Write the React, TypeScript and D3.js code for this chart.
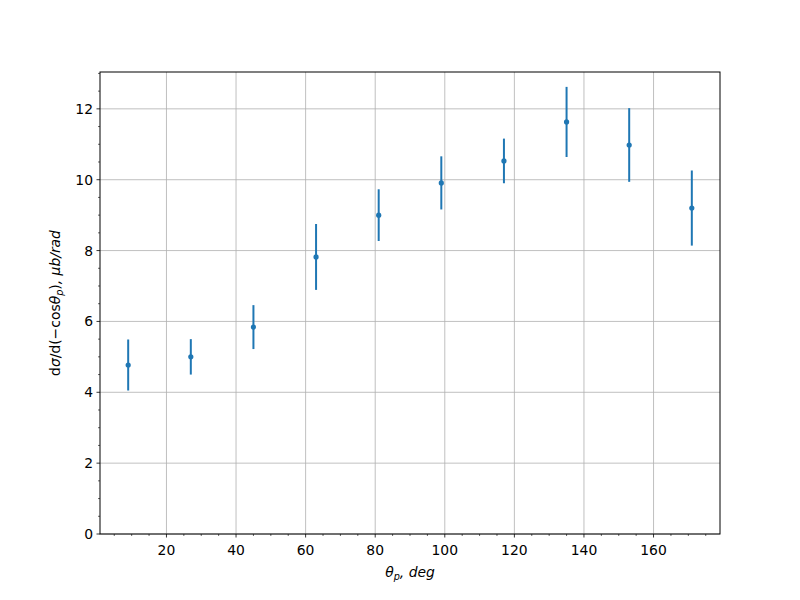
import React from "react";
import * as d3 from "d3";

const thetaDeg = [9, 27, 45, 63, 81, 99, 117, 135, 153, 171];
const crossSection = [4.77, 5.0, 5.84, 7.82, 9.0, 9.91, 10.53, 11.63, 10.98, 9.2];
const crossSectionErr = [0.72, 0.5, 0.62, 0.93, 0.73, 0.75, 0.63, 0.99, 1.04, 1.06];
const xTicks = [20, 40, 60, 80, 100, 120, 140, 160];
const yTicks = [0, 2, 4, 6, 8, 10, 12];

const W = 800, H = 600;
const L = 100, R = 720, T = 72, B = 534;
const COLOR = "#1f77b4";
const FONT = "'DejaVu Sans', sans-serif";

export default function App() {
  const x = d3.scaleLinear().domain([0.9, 179.1]).range([L, R]);
  const y = d3.scaleLinear().domain([0, 13.04]).range([B, T]);
  const xMinor = d3.range(5, 180, 5).filter((v) => v % 20 !== 0 && x(v) >= L && x(v) <= R);
  const yMinor = d3.range(0.5, 13.04, 0.5).filter((v) => Math.abs(v % 2) > 1e-9);

  return (
    <svg width={W} height={H} style={{ display: "block", margin: "-8px" }} fontFamily={FONT}>
      <rect width={W} height={H} fill="white" />
      {/* grid */}
      {xTicks.map((v) => (
        <line key={"gx" + v} x1={x(v)} x2={x(v)} y1={T} y2={B} stroke="#b0b0b0" strokeWidth={0.8} />
      ))}
      {yTicks.map((v) => (
        <line key={"gy" + v} x1={L} x2={R} y1={y(v)} y2={y(v)} stroke="#b0b0b0" strokeWidth={0.8} />
      ))}
      {/* error bars */}
      {thetaDeg.map((t, i) => (
        <line
          key={"e" + i}
          x1={x(t)}
          x2={x(t)}
          y1={y(crossSection[i] - crossSectionErr[i])}
          y2={y(crossSection[i] + crossSectionErr[i])}
          stroke={COLOR}
          strokeWidth={2}
        />
      ))}
      {thetaDeg.map((t, i) => (
        <circle key={"p" + i} cx={x(t)} cy={y(crossSection[i])} r={2.6} fill={COLOR} />
      ))}
      {/* spines */}
      <rect x={L} y={T} width={R - L} height={B - T} fill="none" stroke="black" strokeWidth={1} />
      {/* x ticks */}
      {xTicks.map((v) => (
        <g key={"xt" + v}>
          <line x1={x(v)} x2={x(v)} y1={B} y2={B + 3.5} stroke="black" strokeWidth={0.8} />
          <text x={x(v)} y={B + 17} textAnchor="middle" fontSize={13.9} dominantBaseline="middle">
            {v}
          </text>
        </g>
      ))}
      {xMinor.map((v) => (
        <line key={"xm" + v} x1={x(v)} x2={x(v)} y1={B} y2={B + 2} stroke="black" strokeWidth={0.6} />
      ))}
      {/* y ticks */}
      {yTicks.map((v) => (
        <g key={"yt" + v}>
          <line x1={L - 3.5} x2={L} y1={y(v)} y2={y(v)} stroke="black" strokeWidth={0.8} />
          <text x={L - 7} y={y(v)} textAnchor="end" fontSize={13.9} dominantBaseline="central">
            {v}
          </text>
        </g>
      ))}
      {yMinor.map((v) => (
        <line key={"ym" + v} x1={L - 2} x2={L} y1={y(v)} y2={y(v)} stroke="black" strokeWidth={0.6} />
      ))}
      {/* x label */}
      <text x={(L + R) / 2} y={577} textAnchor="middle" fontSize={13.9} fontStyle="italic">
        <tspan>θ</tspan>
        <tspan fontSize={9.7} dy={3}>p</tspan>
        <tspan dy={-3}>, deg</tspan>
      </text>
      {/* y label */}
      <text
        transform={`translate(60, ${(T + B) / 2}) rotate(-90)`}
        textAnchor="middle"
        fontSize={13.9}
      >
        <tspan>d</tspan>
        <tspan fontStyle="italic">σ</tspan>
        <tspan>/d(−cos</tspan>
        <tspan fontStyle="italic">θ</tspan>
        <tspan fontStyle="italic" fontSize={9.7} dy={3}>p</tspan>
        <tspan dy={-3}>)</tspan>
        <tspan fontStyle="italic">, μb/rad</tspan>
      </text>
    </svg>
  );
}
